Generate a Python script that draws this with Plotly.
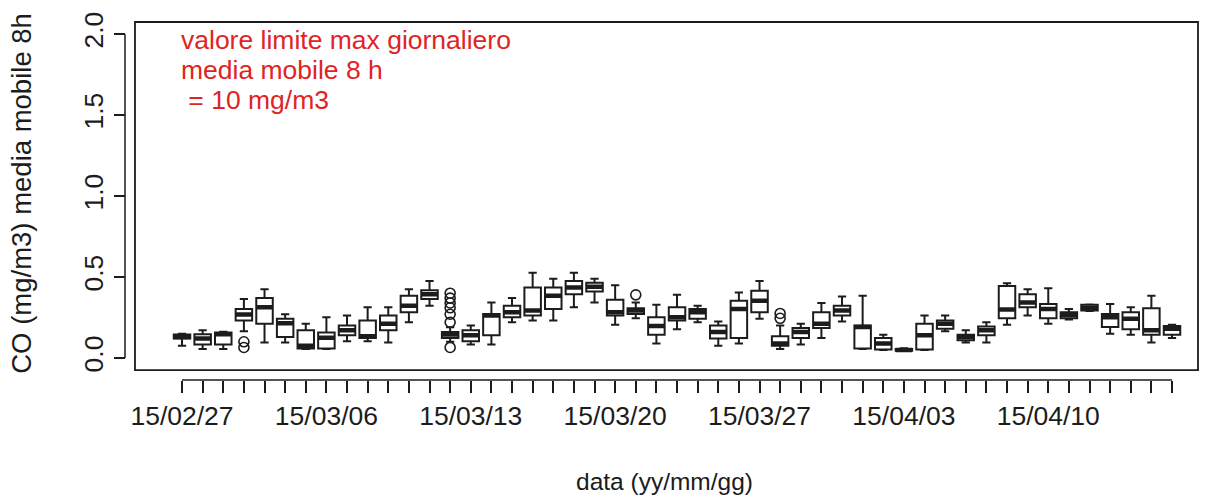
import pandas as pd
import plotly.graph_objects as go

# 8-hour rolling mean of CO (mg/m3), one box per day
days = pd.date_range("2015-02-27", periods=49, freq="D")
day_labels = [d.strftime("%y/%m/%d") for d in days]
positions = list(range(1, len(days) + 1))

whisker_low = [0.075, 0.055, 0.055, 0.165, 0.096, 0.096, 0.055, 0.055, 0.104, 0.104,
               0.096, 0.221, 0.323, 0.100, 0.083, 0.083, 0.221, 0.232, 0.232, 0.313,
               0.343, 0.205, 0.246, 0.089, 0.177, 0.221, 0.075, 0.089, 0.242, 0.055,
               0.083, 0.124, 0.226, 0.055, 0.050, 0.043, 0.050, 0.165, 0.096, 0.096,
               0.205, 0.262, 0.211, 0.238, 0.290, 0.150, 0.144, 0.096, 0.124]
q1 = [0.120, 0.083, 0.083, 0.232, 0.211, 0.130, 0.059, 0.059, 0.140, 0.124,
      0.171, 0.282, 0.364, 0.124, 0.104, 0.140, 0.252, 0.262, 0.303, 0.394,
      0.410, 0.262, 0.272, 0.144, 0.232, 0.242, 0.120, 0.124, 0.282, 0.075,
      0.124, 0.185, 0.262, 0.059, 0.053, 0.045, 0.053, 0.181, 0.110, 0.140,
      0.246, 0.313, 0.246, 0.246, 0.293, 0.191, 0.177, 0.144, 0.144]
median = [0.130, 0.120, 0.146, 0.268, 0.313, 0.215, 0.075, 0.125, 0.171, 0.135,
          0.211, 0.323, 0.394, 0.145, 0.140, 0.262, 0.282, 0.293, 0.384, 0.435,
          0.440, 0.282, 0.293, 0.197, 0.252, 0.282, 0.160, 0.303, 0.354, 0.089,
          0.160, 0.211, 0.293, 0.191, 0.089, 0.050, 0.140, 0.211, 0.130, 0.171,
          0.299, 0.343, 0.303, 0.266, 0.310, 0.252, 0.242, 0.171, 0.181]
q3 = [0.145, 0.146, 0.157, 0.303, 0.370, 0.242, 0.171, 0.157, 0.201, 0.232,
      0.262, 0.384, 0.419, 0.160, 0.171, 0.272, 0.323, 0.435, 0.435, 0.476,
      0.465, 0.360, 0.307, 0.252, 0.313, 0.303, 0.201, 0.354, 0.415, 0.134,
      0.185, 0.282, 0.323, 0.201, 0.124, 0.055, 0.211, 0.232, 0.144, 0.195,
      0.445, 0.394, 0.333, 0.282, 0.329, 0.272, 0.282, 0.307, 0.197]
whisker_high = [0.150, 0.171, 0.162, 0.364, 0.425, 0.270, 0.211, 0.252, 0.262, 0.313,
                0.313, 0.425, 0.476, 0.190, 0.201, 0.343, 0.370, 0.526, 0.490, 0.526,
                0.490, 0.449, 0.343, 0.329, 0.390, 0.323, 0.226, 0.404, 0.476, 0.201,
                0.211, 0.339, 0.380, 0.384, 0.144, 0.060, 0.262, 0.262, 0.171, 0.221,
                0.461, 0.425, 0.430, 0.303, 0.330, 0.333, 0.313, 0.384, 0.205]

# values beyond the whiskers
outlier_day = [4, 4, 14, 14, 14, 14, 14, 14, 14, 23, 30, 30]
outlier_val = [0.100, 0.065, 0.400, 0.370, 0.340, 0.310, 0.270, 0.220, 0.065, 0.390, 0.275, 0.245]

y_ticks = [0.0, 0.5, 1.0, 1.5, 2.0]
y_tick_labels = ["0.0", "0.5", "1.0", "1.5", "2.0"]
label_step = 7

limit_text = ["valore limite max giornaliero", "media mobile 8 h", "\u00a0= 10 mg/m3"]

FONT = "Liberation Sans, Arial, sans-serif"
INK = "#1c1c1c"
RED = "#e02424"
BOX_W = 0.8

fig = go.Figure()

fig.add_trace(go.Box(
    x=positions, q1=q1, median=median, q3=q3,
    lowerfence=whisker_low, upperfence=whisker_high,
    boxpoints=False, width=BOX_W, whiskerwidth=0.5,
    fillcolor="white", line=dict(color=INK, width=2),
    showlegend=False, hoverinfo="skip",
))

# heavy median bars
mx, my = [], []
for p, m in zip(positions, median):
    mx += [p - BOX_W / 2, p + BOX_W / 2, None]
    my += [m, m, None]
fig.add_trace(go.Scatter(x=mx, y=my, mode="lines",
                         line=dict(color=INK, width=4.5),
                         showlegend=False, hoverinfo="skip"))

fig.add_trace(go.Scatter(x=outlier_day, y=outlier_val, mode="markers",
                         marker=dict(symbol="circle-open", size=10, color=INK,
                                     line=dict(color=INK, width=1.6)),
                         showlegend=False, hoverinfo="skip"))

tick_text = [lab if i % label_step == 0 else "" for i, lab in enumerate(day_labels)]

fig.update_layout(
    width=1216, height=501,
    margin=dict(l=125, r=18, t=17, b=121),
    paper_bgcolor="white", plot_bgcolor="white",
    font=dict(family=FONT, size=26, color=INK),
    xaxis=dict(
        domain=[10 / 1073, 1], anchor="free", position=0,
        range=[-1.28, 50.26], showgrid=False, zeroline=False, showline=False,
        tickmode="array", tickvals=positions, ticktext=tick_text,
        ticks="outside", ticklen=12, tickwidth=1.5, tickcolor=INK,
        tickfont=dict(size=26.5, color=INK), tickangle=0,
    ),
    yaxis=dict(
        domain=[10 / 363, 1], anchor="free", position=0,
        range=[-0.075, 2.075], showgrid=False, zeroline=False, showline=False,
        tickmode="array", tickvals=y_ticks, ticktext=y_tick_labels,
        ticks="outside", ticklen=11, tickwidth=1.5, tickcolor=INK,
        tickfont=dict(size=26.5, color=INK), tickangle=-90,
    ),
    shapes=[
        dict(type="rect", xref="x domain", yref="y domain", x0=0, x1=1, y0=0, y1=1,
             line=dict(color=INK, width=1.8), fillcolor="rgba(0,0,0,0)", layer="above"),
        dict(type="line", xref="paper", yref="y", x0=0, x1=0,
             y0=y_ticks[0], y1=y_ticks[-1], line=dict(color=INK, width=1.5)),
        dict(type="line", xref="x", yref="paper", x0=positions[0], x1=positions[-1],
             y0=0, y1=0, line=dict(color=INK, width=1.5)),
    ],
)

annotations = [
    dict(text="CO (mg/m3) media mobile 8h", xref="paper", yref="paper",
         x=-0.096, y=0.523, textangle=-90, showarrow=False,
         xanchor="center", yanchor="middle", font=dict(size=27.5, color=INK)),
    dict(text="data (yy/mm/gg)", xref="paper", yref="paper",
         x=0.503, y=-0.284, showarrow=False,
         xanchor="center", yanchor="middle", font=dict(size=24.5, color=INK)),
]
for k, line in enumerate(limit_text):
    annotations.append(dict(text=line, xref="x", yref="y", x=0.85,
                            y=1.962 - 0.183 * k, showarrow=False,
                            xanchor="left", yanchor="middle",
                            font=dict(size=26.5, color=RED)))
fig.update_layout(annotations=annotations)

fig.write_html("out.html")
